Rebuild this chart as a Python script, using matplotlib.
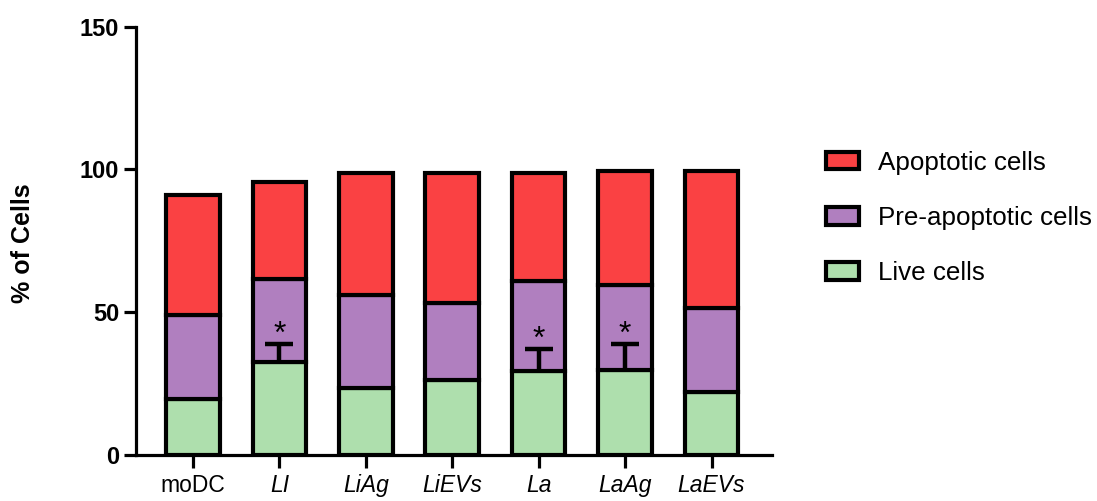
import numpy as np
import matplotlib
matplotlib.use("Agg")
import matplotlib.pyplot as plt

plt.rcParams['font.family'] = ['Liberation Sans', 'DejaVu Sans']

# groups and stacked percentages
groups = ["moDC", "LI", "LiAg", "LiEVs", "La", "LaAg", "LaEVs"]
live = [19.6, 32.4, 23.3, 26.3, 29.3, 29.7, 21.9]
pre_apoptotic = [29.5, 29.2, 32.7, 26.8, 31.5, 29.9, 29.7]
apoptotic = [42.1, 33.9, 42.8, 45.7, 38.0, 39.8, 47.8]
live_err = [0, 6.5, 0, 0, 7.8, 9.3, 0]
sig = ["", "*", "", "", "*", "*", ""]

green = "#aedfad"
purple = "#b07fbf"
red = "#fa4143"

fig = plt.figure(figsize=(10.97, 5.01), dpi=100)
ax = fig.add_axes([136/1097, 1-455/501, (772-136)/1097, (455-26.7)/501])

x = np.arange(len(groups))
live = np.array(live)
pre_apoptotic = np.array(pre_apoptotic)
apoptotic = np.array(apoptotic)
live_err = np.array(live_err)

w = 0.62
lw = 3.0
b1 = ax.bar(x, live, w, color=green, edgecolor="black", linewidth=lw, label="Live cells", zorder=2)
b2 = ax.bar(x, pre_apoptotic, w, bottom=live, color=purple, edgecolor="black", linewidth=lw,
            label="Pre-apoptotic cells", zorder=2)
b3 = ax.bar(x, apoptotic, w, bottom=live + pre_apoptotic, color=red, edgecolor="black", linewidth=lw,
            label="Apoptotic cells", zorder=2)

# upper error bars on live cells only
m = live_err > 0
eb = ax.errorbar(x[m], live[m], yerr=[np.zeros(m.sum()), live_err[m]], fmt="none", ecolor="black",
                 elinewidth=3.2, capsize=10, capthick=3.2, zorder=3)
eb[1][0].set_visible(False)  # no lower cap
for xi, yi, ei, s in zip(x, live, live_err, sig):
    if s:
        ax.text(xi, yi + ei + 3.2, s, ha="center", va="center", fontsize=23, zorder=4)

ax.set_xlim(-0.66, 6.7)
ax.set_ylim(0, 150)
ax.set_yticks([0, 50, 100, 150])
ax.set_xticks(x)
ax.set_xticklabels(groups, fontsize=16.5)
for i, lab in enumerate(ax.get_xticklabels()):
    if i > 0:
        lab.set_style("italic")
for lab in ax.get_yticklabels():
    lab.set_fontweight("bold")
    lab.set_fontsize(17)

for s in ["top", "right"]:
    ax.spines[s].set_visible(False)
for s in ["left", "bottom"]:
    ax.spines[s].set_linewidth(2.3)
ax.tick_params(axis="both", direction="out", length=9, width=2.3)
ax.tick_params(axis="y", pad=3)
ax.tick_params(axis="x", pad=5)

fig.text(23/1097, 1-243/501, "% of Cells", rotation=90, ha="center", va="center",
         fontsize=18, fontweight="bold")

ax.legend(handles=[b3, b2, b1], labels=["Apoptotic cells", "Pre-apoptotic cells", "Live cells"],
          loc="center left", bbox_to_anchor=(826/1097, 1-218/501), bbox_transform=fig.transFigure,
          frameon=False, fontsize=18.7, handlelength=1.28, handleheight=0.66, handletextpad=0.72,
          labelspacing=1.2, borderpad=0, borderaxespad=0)

fig.savefig("out.png", dpi=100)
